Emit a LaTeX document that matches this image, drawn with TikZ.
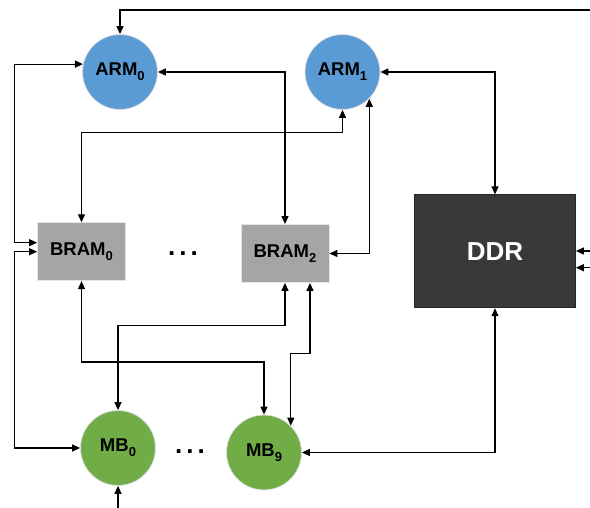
\documentclass[tikz,border=0pt]{standalone}
\usepackage{fontspec}
\setmainfont{Liberation Sans}
\usetikzlibrary{arrows.meta}

\definecolor{armblue}{HTML}{5B9BD5}
\definecolor{mbgreen}{HTML}{70AD47}
\definecolor{bramgray}{HTML}{A5A5A5}
\definecolor{ddrgray}{HTML}{3A3838}

% subscript index of a unit
\newcommand{\unitidx}[1]{\raisebox{-0.28em}{\fontsize{13}{13}\selectfont #1}}

\begin{document}
\begin{tikzpicture}[x=1pt,y=1pt,
        core/.style={draw=black!12,line width=0.8pt,circle,minimum size=75pt,inner sep=0pt,font=\fontsize{18.5}{20}\selectfont\bfseries},
        arm/.style={core,fill=armblue},
        mb/.style={core,fill=mbgreen},
        bram/.style={draw=black!10,line width=0.8pt,fill=bramgray,minimum width=88pt,minimum height=58pt,inner sep=0pt,font=\fontsize{18.5}{20}\selectfont\bfseries},
        ddr/.style={draw=black!85,line width=0.8pt,fill=ddrgray,minimum width=161pt,minimum height=113pt,text=white,font=\fontsize{26}{30}\selectfont\bfseries},
        dots/.style={inner sep=0pt,font=\fontsize{26}{28}\selectfont\bfseries},
        arc/.style={draw,line width=1.2pt,-{Triangle[length=8pt,width=7pt]}},
        duplex/.style={arc,{Triangle[length=8pt,width=7pt]}-{Triangle[length=8pt,width=7pt]}}]
        \useasboundingbox (0,0) rectangle (590,508);

        \foreach [count=\i from 0] \x in {120,342.5}{
            \node[arm] (arm\i) at (\x,436) {ARM\unitidx{\i}};
        }
        \node[bram] (bram0) at (81.5,256.3) {BRAM\unitidx{0}};
        \node[bram] (bram2) at (285,254.5) {BRAM\unitidx{2}};
        \node[ddr] (ddr) at (495,256.7) {DDR};
        \node[mb] (mb0) at (118,60) {MB\unitidx{0}};
        \node[mb] (mb9) at (264,55.5) {MB\unitidx{9}};
        \node[dots] (dotsbram) at (183,254) {.\hspace{4pt}.\hspace{4pt}.};
        \node[dots] (dotsmb) at (190,56.3) {.\hspace{4pt}.\hspace{4pt}.};

        % free ends at the picture border
        \coordinate (topin) at (590,498);
        \coordinate (ddrin1) at (590,257);
        \coordinate (ddrin2) at (590,240.3);
        \coordinate (mbin) at (118,0);

        \draw[arc] (topin) -| (arm0);
        \draw[arc] (ddrin1) -- (ddrin1 -| ddr.east);
        \draw[arc] (ddrin2) -- (ddrin2 -| ddr.east);
        \draw[arc] (mbin) -- (mb0.south);

        \draw[duplex] (arm0.168) -| ([xshift=-23pt,yshift=9pt]bram0.west) -- ([yshift=9pt]bram0.west);
        \draw[duplex] (bram0.west) -- ++(-23,0) |- (mb0.west);
        \draw[duplex] (arm0.east) -| (bram2.north);
        \draw[duplex] (arm1.south) -- ++(0,-23) -| (bram0.north);
        \draw[duplex] (arm1.east) -| (ddr.north);
        \draw[duplex] (arm1.-45) |- (bram2.east);
        \draw[duplex] (ddr.south) |- (mb9.east);
        \draw[duplex] (bram0.south) -- ++(0,-81) -| (mb9.north);
        \draw[duplex] (bram2.south) -- ++(0,-43) -| (mb0.north);
        \draw[duplex] ([xshift=25pt]bram2.south) -- ++(0,-71) -| (mb9.45);
\end{tikzpicture}
\end{document}
